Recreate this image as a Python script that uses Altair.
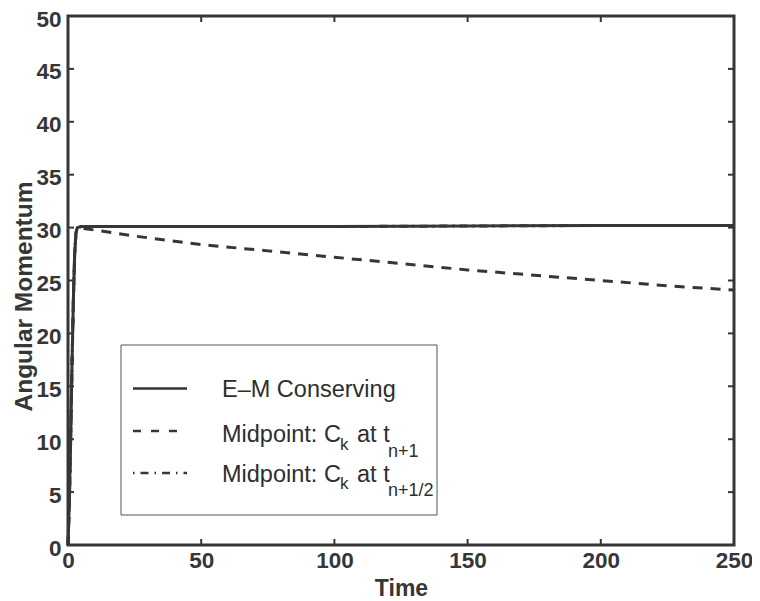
import altair as alt
import pandas as pd

# ---------------- data ----------------
time_em = [0, 0.5, 1.0, 1.5, 2.0, 2.5, 3.0, 3.5, 5, 50, 100, 150, 200, 250]
mom_em = [0, 4, 10, 17, 23, 27.5, 29.5, 30.0, 30.1, 30.1, 30.1, 30.15, 30.2, 30.2]

time_mid1 = [0, 0.5, 1.0, 1.5, 2.0, 2.5, 3.0, 3.5, 12, 25, 50, 75, 100, 125, 150, 175, 200, 225, 250]
mom_mid1 = [0, 4, 10, 17, 23, 27.5, 29.5, 30.0, 29.7, 29.2, 28.4, 27.8, 27.2, 26.6, 26.0, 25.5, 25.0, 24.5, 24.1]

# midpoint at t_{n+1/2} conserves as well: it lies under the E-M curve
time_mid2 = [0, 0.5, 1.0, 1.5, 2.0, 2.5, 3.0, 3.5, 5, 50, 100, 150, 200, 250]
mom_mid2 = [0, 4, 10, 17, 23, 27.5, 29.5, 30.0, 30.1, 30.1, 30.1, 30.15, 30.2, 30.2]

x_ticks = [0, 50, 100, 150, 200, 250]
y_ticks = [0, 5, 10, 15, 20, 25, 30, 35, 40, 45, 50]

series_names = ["E\u2013M Conserving", "Midpoint: C", "Midpoint: C"]
sub_k = "k"
at_t = "at t"
sub_t = ["n+1", "n+1/2"]

# ---------------- style ----------------
W, H = 666, 529
INK = "#363636"
FONT = "Liberation Sans"
LW = 3

df_em = pd.DataFrame({"t": time_em, "v": mom_em})
df_m1 = pd.DataFrame({"t": time_mid1, "v": mom_mid1})
df_m2 = pd.DataFrame({"t": time_mid2, "v": mom_mid2})
df_xt = pd.DataFrame({"t": x_ticks})
df_yt = pd.DataFrame({"v": y_ticks})
one = pd.DataFrame({"a": [0]})

xs = alt.Scale(domain=[0, 250], nice=False, zero=False)
ys = alt.Scale(domain=[0, 50], nice=False, zero=False)

xax = alt.Axis(values=x_ticks, ticks=False, domain=False, grid=False, labelFlush=False,
               labelFont=FONT, labelFontSize=22.5, labelFontWeight="bold", labelColor=INK,
               labelPadding=4, title="Time", titleFont=FONT, titleFontSize=23,
               titleFontWeight="bold", titleColor=INK, titleBaseline="alphabetic",
               titleY=50, titleX=W / 2)
yax = alt.Axis(values=y_ticks, ticks=False, domain=False, grid=False, labelFlush=False,
               labelFont=FONT, labelFontSize=22.5, labelFontWeight="bold", labelColor=INK,
               labelPadding=7, labelOffset=3, title="Angular Momentum", titleFont=FONT,
               titleFontSize=24.5, titleFontWeight="bold", titleColor=INK, titleAngle=-90,
               titleBaseline="middle", titleAlign="center", titleX=-44, titleY=280)

base_x = alt.X("t:Q", scale=xs, axis=xax)
base_y = alt.Y("v:Q", scale=ys, axis=yax)

line_m2 = alt.Chart(df_m2).mark_line(color=INK, strokeWidth=LW, strokeDash=[8, 5, 2, 5]).encode(
    x=base_x, y=base_y)
line_m1 = alt.Chart(df_m1).mark_line(color=INK, strokeWidth=LW, strokeDash=[10, 8]).encode(
    x="t:Q", y="v:Q")
line_em = alt.Chart(df_em).mark_line(color=INK, strokeWidth=LW).encode(x="t:Q", y="v:Q")

# inward ticks on all four sides
tk = dict(color=INK, strokeWidth=2)
t_left = alt.Chart(df_yt).mark_rule(**tk).encode(y="v:Q", x=alt.value(0), x2=alt.value(6))
t_right = alt.Chart(df_yt).mark_rule(**tk).encode(y="v:Q", x=alt.value(W), x2=alt.value(W - 6))
t_bot = alt.Chart(df_xt).mark_rule(**tk).encode(x="t:Q", y=alt.value(H), y2=alt.value(H - 6))
t_top = alt.Chart(df_xt).mark_rule(**tk).encode(x="t:Q", y=alt.value(0), y2=alt.value(6))

# legend box
box = alt.Chart(one).mark_rect(fill="white", stroke="#555555", strokeWidth=1).encode(
    x=alt.value(53), x2=alt.value(369), y=alt.value(329), y2=alt.value(499))

sam_em = alt.Chart(one).mark_rule(color=INK, strokeWidth=2.5).encode(
    x=alt.value(65), x2=alt.value(119), y=alt.value(372.5))
sam_m1 = alt.Chart(one).mark_rule(color=INK, strokeWidth=2.5, strokeDash=[8, 10]).encode(
    x=alt.value(65), x2=alt.value(119), y=alt.value(415))
sam_m2 = alt.Chart(one).mark_rule(color=INK, strokeWidth=2.5, strokeDash=[1.5, 6, 8, 6]).encode(
    x=alt.value(65), x2=alt.value(119), y=alt.value(457))


def txt(s, x, y, size):
    return alt.Chart(one).mark_text(font=FONT, fontSize=size, color="#2e2e2e", align="left",
                                    baseline="alphabetic").encode(
        x=alt.value(x), y=alt.value(y), text=alt.value(s))


texts = [
    txt(series_names[0], 154, 381, 23.5),
    txt(series_names[1], 154, 426, 23.5),
    txt(sub_k, 272, 434, 17),
    txt(at_t, 289, 426, 23.5),
    txt(sub_t[0], 320, 441, 18),
    txt(series_names[2], 154, 465.5, 23.5),
    txt(sub_k, 272, 473, 17),
    txt(at_t, 289, 465.5, 23.5),
    txt(sub_t[1], 320, 479.5, 18),
]

chart = alt.layer(line_m2, line_m1, line_em, t_left, t_right, t_bot, t_top,
                  box, sam_em, sam_m1, sam_m2, *texts).properties(
    width=W, height=H,
    autosize=alt.AutoSizeParams(type="none"),
    padding={"left": 60, "top": 8, "right": 18, "bottom": 54},
    background="white",
).configure_view(stroke=INK, strokeWidth=3)

chart.save("out.html", embed_options={"renderer": "svg", "actions": False})
